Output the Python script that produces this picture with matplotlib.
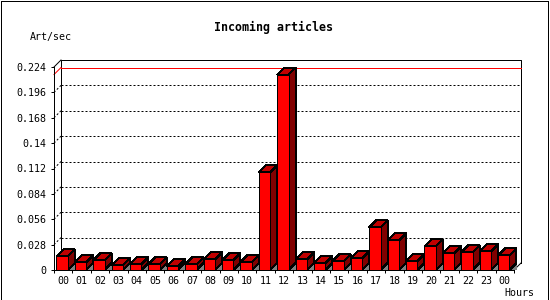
import matplotlib
matplotlib.use('Agg')
import matplotlib.pyplot as plt
from matplotlib.patches import Polygon, Rectangle

hours = ['00', '01', '02', '03', '04', '05', '06', '07', '08', '09', '10', '11',
         '12', '13', '14', '15', '16', '17', '18', '19', '20', '21', '22', '23', '00']
rate = [0.0151, 0.0085, 0.0107, 0.0052, 0.0063, 0.0063, 0.0041, 0.0063, 0.0118,
        0.0107, 0.0085, 0.1077, 0.2157, 0.0118, 0.0074, 0.0096, 0.0129, 0.0470,
        0.0327, 0.0096, 0.0261, 0.0184, 0.0195, 0.0206, 0.0162]
y_ticks = [0, 0.028, 0.056, 0.084, 0.112, 0.14, 0.168, 0.196, 0.224]
y_labels = ['0', '0.028', '0.056', '0.084', '0.112', '0.14', '0.168', '0.196', '0.224']

plt.rcParams['font.family'] = 'DejaVu Sans Mono'
# bars in the original are drawn without antialiasing
plt.rcParams['patch.antialiased'] = False

W, H = 550, 300
PX = 0.72  # one pixel in points at dpi 100
n = len(rate)
ymax = y_ticks[-1]
# 3d depth, 7 px each way, in data units
DX = 7 / (460 / n)
DY = 7 / (203 / ymax)

fig = plt.figure(figsize=(W / 100, H / 100), dpi=100)
ax = fig.add_axes([54 / W, 30 / H, 460 / W, 203 / H])
ax.set_xlim(0, n)
ax.set_ylim(0, ymax)
ax.patch.set_visible(False)

# outer frame of the image
fig.patches.append(Rectangle((0.5 / W, 0.5 / H), 547 / W, 299 / H, transform=fig.transFigure,
                             fill=False, ec='black', lw=PX))


def line(xs, ys, **kw):
    # straight pieces are kept apart from slanted ones so they snap to pixels
    ax.plot(xs, ys, lw=PX, clip_on=False, zorder=1, **kw)


# back plane grid, dotted, with the slanted bit from the front axis
for v in y_ticks[1:-1]:
    line([0, DX], [v, v + DY], color='black', ls=(0, (2, 2)))
    line([DX, n + DX], [v + DY, v + DY], color='black', ls=(0, (2, 2)))

# back plane box and the 3d corners
line([DX, DX, n + DX, n + DX], [DY, ymax + DY, ymax + DY, DY], color='black')
line([0, DX], [ymax, ymax + DY], color='black')
line([n, n + DX], [0, DY], color='black')

# max value line
m = max(rate)
line([0, DX], [m, m + DY], color='red')
line([DX, n + DX], [m + DY, m + DY], color='red')

bw = 0.62
for i, v in enumerate(rate):
    x0 = i + 0.13
    x1 = x0 + bw
    ax.add_patch(Polygon([(x1, 0), (x1 + DX, DY), (x1 + DX, 0)], closed=True,
                         fc='#808080', ec='none', clip_on=False, zorder=2))
    ax.add_patch(Polygon([(x1, 0), (x1, v), (x1 + DX, v + DY), (x1 + DX, DY)], closed=True,
                         fc='#800000', ec='black', lw=PX, clip_on=False, zorder=2))
    ax.add_patch(Polygon([(x0, v), (x0 + DX, v + DY), (x1 + DX, v + DY), (x1, v)], closed=True,
                         fc='#c00000', ec='black', lw=PX, clip_on=False, zorder=2))
    ax.add_patch(Rectangle((x0, 0), bw, v, fc='#ff0000', ec='black', lw=PX,
                           clip_on=False, zorder=2))

for s in ['top', 'right']:
    ax.spines[s].set_visible(False)
for s in ['left', 'bottom']:
    ax.spines[s].set_linewidth(PX)
    ax.spines[s].set_zorder(3)

ax.set_yticks(y_ticks)
ax.set_yticklabels(y_labels)
ax.set_xticks(range(n + 1))
ax.set_xticklabels([])
ax.set_xticks([i + 0.5 for i in range(n)], minor=True)
ax.set_xticklabels(hours, minor=True)
ax.tick_params(axis='both', which='major', length=3 * PX, width=PX, labelsize=7.2, pad=3.5)
ax.tick_params(axis='x', which='minor', length=0, labelsize=7.2, pad=4)

fig.text(273.5 / W, 1 - 27 / H, 'Incoming articles', ha='center', va='center',
         fontsize=8.4, fontweight='bold')
fig.text(30 / W, 1 - 37 / H, 'Art/sec', ha='left', va='center', fontsize=7.2)
fig.text(534 / W, 1 - 293 / H, 'Hours', ha='right', va='center', fontsize=7.2)

fig.savefig('out.png', dpi=100)
